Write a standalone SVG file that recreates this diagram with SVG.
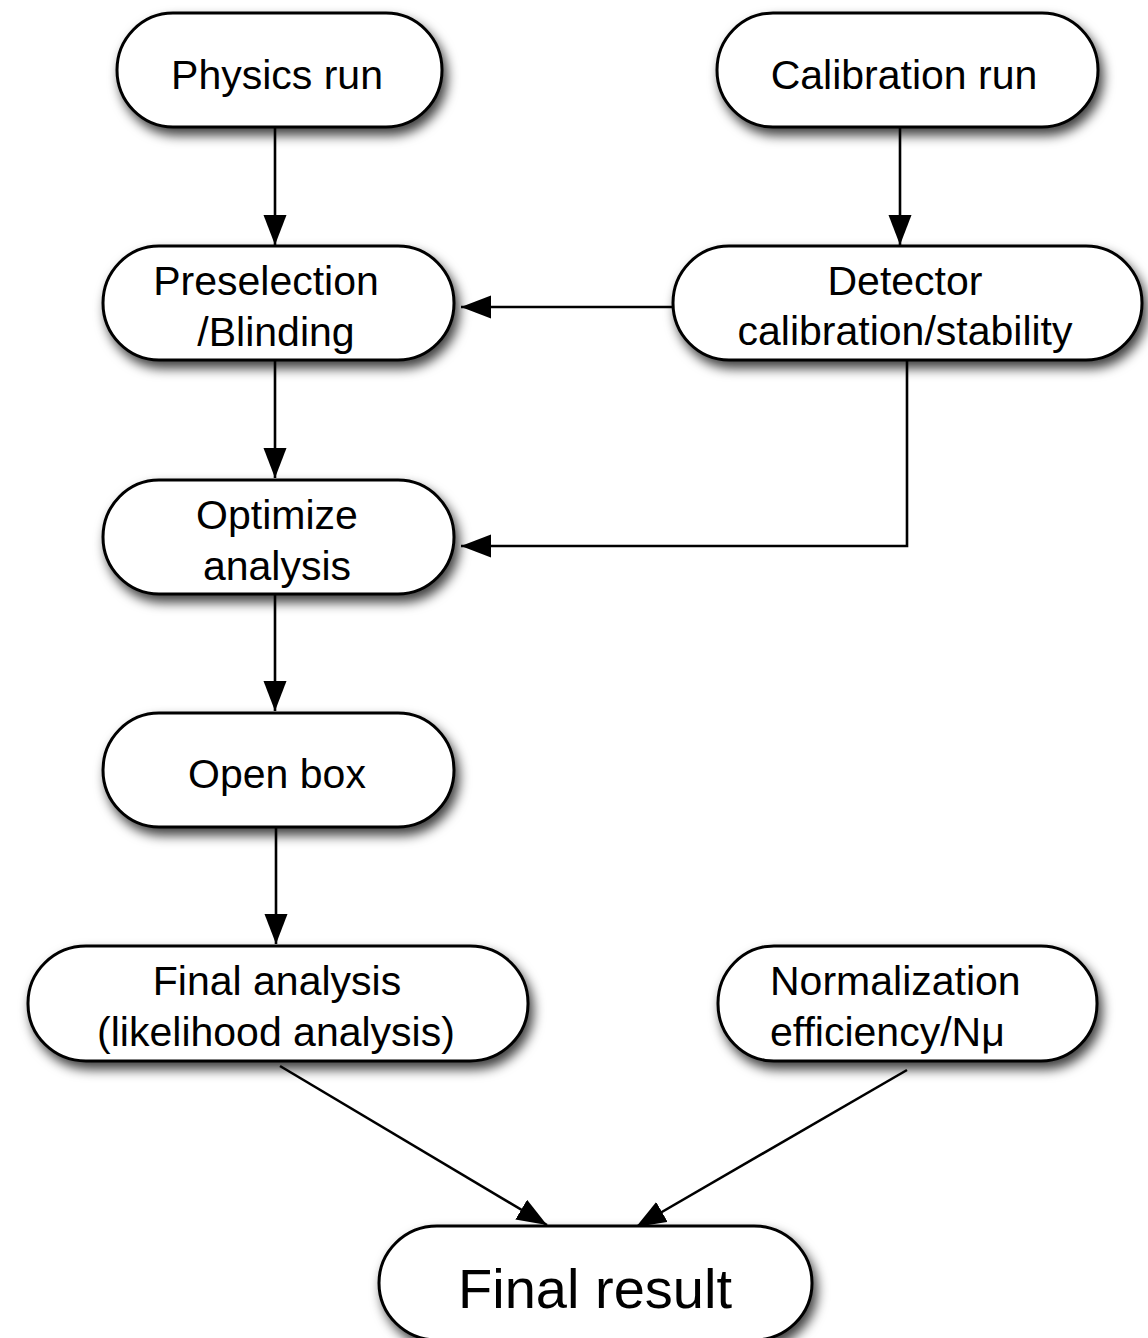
<svg xmlns="http://www.w3.org/2000/svg" width="1148" height="1338" viewBox="0 0 1148 1338">
<style>
.node rect{fill:#fff;stroke:#000;stroke-width:3;filter:url(#sh)}
.node text{font-family:"Liberation Sans",Arial,Helvetica,sans-serif;font-size:41px;fill:#000;text-anchor:middle}
.conn path{fill:none;stroke:#000;stroke-width:2.6;marker-end:url(#ah)}
</style>
<defs>
<filter id="sh" x="-20%" y="-30%" width="140%" height="180%">
<feDropShadow dx="4" dy="7" stdDeviation="6" flood-color="#000" flood-opacity="0.75"/>
</filter>
<marker id="ah" markerUnits="userSpaceOnUse" markerWidth="32" markerHeight="24" refX="30" refY="11.5" orient="auto" viewBox="0 0 32 24">
<path d="M0,0 L30,11.5 L0,23 z" fill="#000"/>
</marker>
</defs>
<rect width="1148" height="1338" fill="#fff"/>
<g class="conn">
<path d="M275,128 L275,245"/>
<path d="M900,127 L900,245"/>
<path d="M677,307 L461,307"/>
<path d="M907,360 L907,546 L461,546"/>
<path d="M275,361 L275,478"/>
<path d="M275,595 L275,711"/>
<path d="M276,828 L276,944"/>
<path d="M280,1066 L547,1225"/>
<path d="M907,1070 L636,1227"/>
</g>
<g id="physics" class="node"><rect x="117" y="13" width="325" height="114" rx="56" ry="57"/><text x="277" y="89">Physics run</text></g>
<g id="calibration" class="node"><rect x="717" y="13" width="381" height="114" rx="56" ry="57"/><text x="904" y="89">Calibration run</text></g>
<g id="preselection" class="node"><rect x="103" y="246" width="351" height="114" rx="56" ry="57"/><text x="266" y="295">Preselection</text><text x="276" y="346">/Blinding</text></g>
<g id="detector" class="node"><rect x="673" y="246" width="469" height="114" rx="56" ry="57"/><text x="905" y="295">Detector</text><text x="905" y="345">calibration/stability</text></g>
<g id="optimize" class="node"><rect x="103" y="480" width="351" height="114" rx="56" ry="57"/><text x="277" y="529">Optimize</text><text x="277" y="580">analysis</text></g>
<g id="openbox" class="node"><rect x="103" y="713" width="351" height="114" rx="56" ry="57"/><text x="277" y="788">Open box</text></g>
<g id="finalanalysis" class="node"><rect x="28" y="946" width="500" height="115" rx="58" ry="57"/><text x="277" y="995">Final analysis</text><text x="276" y="1046">(likelihood analysis)</text></g>
<g id="normalization" class="node"><rect x="718" y="946" width="379" height="115" rx="56" ry="57"/><text x="770" y="995" style="text-anchor:start">Normalization</text><text x="770" y="1046" style="text-anchor:start">efficiency/Nμ</text></g>
<g id="finalresult" class="node"><rect x="379" y="1226" width="433" height="114" rx="58" ry="57"/><text x="595" y="1308" style="font-size:56px">Final result</text></g>
</svg>
